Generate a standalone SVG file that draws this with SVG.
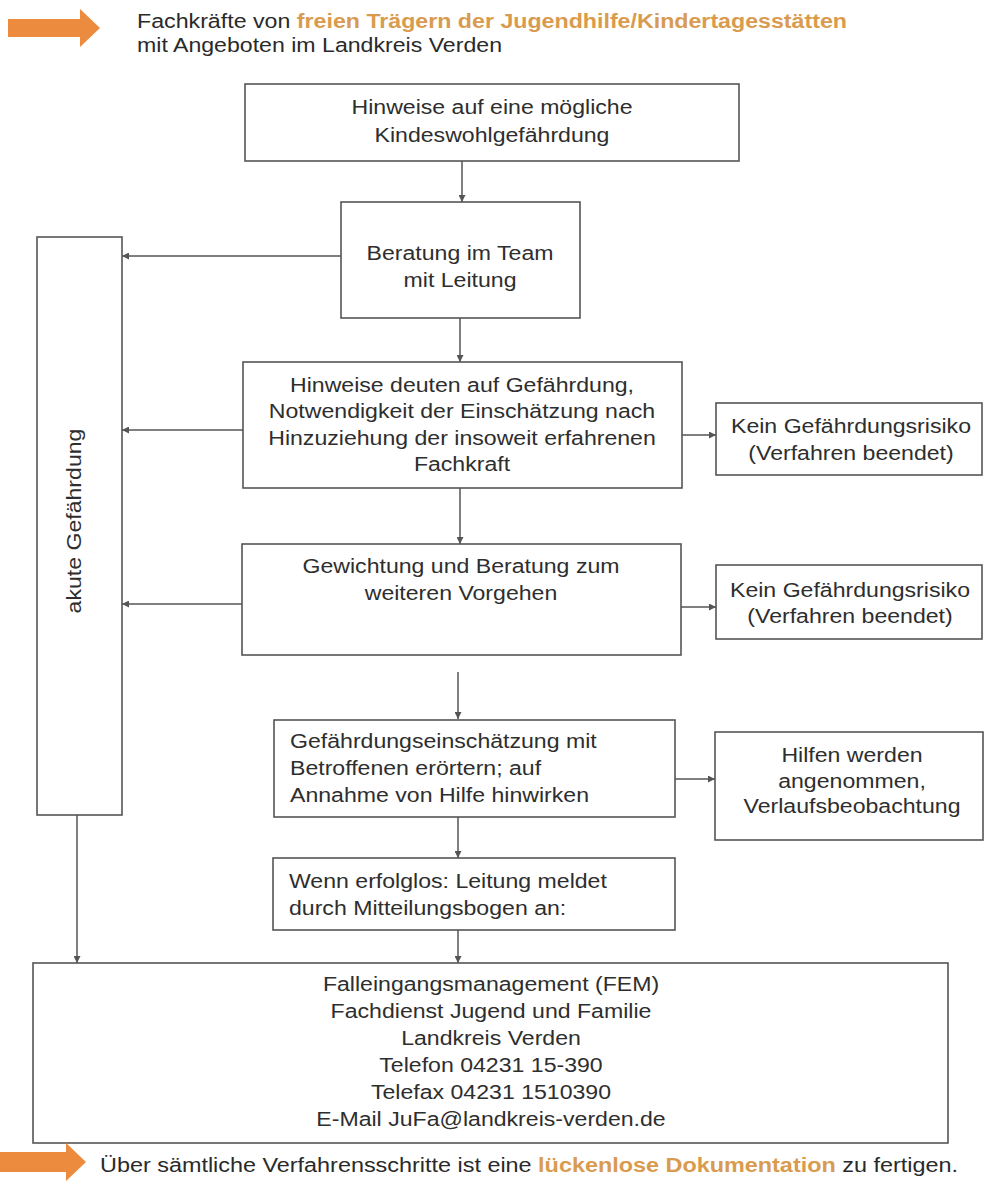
<svg xmlns="http://www.w3.org/2000/svg" width="984" height="1182" viewBox="0 0 984 1182">
<defs>
<style>
.box{fill:#fff;stroke:#555;stroke-width:1.6}
.t{font-family:"Liberation Sans",Arial,sans-serif;font-size:21px;fill:#2e2e2e}
.c{text-anchor:middle}
.hd{font-family:"Liberation Sans",Arial,sans-serif;font-size:20px;fill:#2a2a2a}
.or{fill:#d99b4f;font-weight:bold}
.ln{fill:none;stroke:#555;stroke-width:1.5;marker-end:url(#ah)}
.blk{fill:#ec8a3d}
</style>
<marker id="ah" viewBox="0 0 10 10" refX="10" refY="5" markerWidth="7" markerHeight="7" markerUnits="userSpaceOnUse" orient="auto">
<path d="M0,0 L10,5 L0,10 z" fill="#555"/>
</marker>
</defs>
<rect width="984" height="1182" fill="#fff"/>

<g id="header">
<polygon class="blk" points="8,19 80,19 80,9 100,28 80,47 80,37 8,37"/>
<text class="hd" x="137" y="28" textLength="710" lengthAdjust="spacingAndGlyphs">Fachkräfte von <tspan class="or">freien Trägern der Jugendhilfe/Kindertagesstätten</tspan></text>
<text class="hd" x="137" y="52" textLength="365" lengthAdjust="spacingAndGlyphs">mit Angeboten im Landkreis Verden</text>
</g>

<g id="n1">
<rect class="box" x="245" y="84" width="494" height="77"/>
<g transform="translate(492,0) scale(1.1,1)"><text class="t c" x="0" y="114">Hinweise auf eine mögliche</text><text class="t c" x="0" y="142">Kindeswohlgefährdung</text></g>
</g>

<g id="n2">
<rect class="box" x="341" y="202" width="239" height="116"/>
<g transform="translate(460,0) scale(1.1,1)"><text class="t c" x="0" y="260">Beratung im Team</text><text class="t c" x="0" y="287">mit Leitung</text></g>
</g>

<g id="akut">
<rect class="box" x="37" y="237" width="85" height="578"/>
<text class="t c" transform="translate(81,521) rotate(-90) scale(1.1,1)" x="0" y="0">akute Gefährdung</text>
</g>

<g id="n3">
<rect class="box" x="243" y="362" width="439" height="126"/>
<g transform="translate(462,0) scale(1.1,1)"><text class="t c" x="0" y="392">Hinweise deuten auf Gefährdung,</text><text class="t c" x="0" y="418">Notwendigkeit der Einschätzung nach</text><text class="t c" x="0" y="445">Hinzuziehung der insoweit erfahrenen</text><text class="t c" x="0" y="471">Fachkraft</text></g>
</g>

<g id="k1">
<rect class="box" x="716" y="403" width="266" height="72"/>
<g transform="translate(851,0) scale(1.1,1)"><text class="t c" x="0" y="433">Kein Gefährdungsrisiko</text><text class="t c" x="0" y="460">(Verfahren beendet)</text></g>
</g>

<g id="n4">
<rect class="box" x="242" y="544" width="439" height="111"/>
<g transform="translate(461,0) scale(1.1,1)"><text class="t c" x="0" y="573">Gewichtung und Beratung zum</text><text class="t c" x="0" y="600">weiteren Vorgehen</text></g>
</g>

<g id="k2">
<rect class="box" x="716" y="565" width="266" height="74"/>
<g transform="translate(850,0) scale(1.1,1)"><text class="t c" x="0" y="597">Kein Gefährdungsrisiko</text><text class="t c" x="0" y="623">(Verfahren beendet)</text></g>
</g>

<g id="n5">
<rect class="box" x="274" y="720" width="401" height="97"/>
<g transform="translate(290,0) scale(1.1,1)"><text class="t" x="0" y="748">Gefährdungseinschätzung mit</text><text class="t" x="0" y="775">Betroffenen erörtern; auf</text><text class="t" x="0" y="802">Annahme von Hilfe hinwirken</text></g>
</g>

<g id="h">
<rect class="box" x="715" y="732" width="268" height="108"/>
<g transform="translate(852,0) scale(1.1,1)"><text class="t c" x="0" y="762">Hilfen werden</text><text class="t c" x="0" y="788">angenommen,</text><text class="t c" x="0" y="813">Verlaufsbeobachtung</text></g>
</g>

<g id="n6">
<rect class="box" x="273" y="858" width="402" height="72"/>
<g transform="translate(289,0) scale(1.1,1)"><text class="t" x="0" y="888">Wenn erfolglos: Leitung meldet</text><text class="t" x="0" y="915">durch Mitteilungsbogen an:</text></g>
</g>

<g id="n7">
<rect class="box" x="33" y="963" width="915" height="180"/>
<g transform="translate(491,0) scale(1.1,1)">
<text class="t c" x="0" y="991">Falleingangsmanagement (FEM)</text>
<text class="t c" x="0" y="1018">Fachdienst Jugend und Familie</text>
<text class="t c" x="0" y="1045">Landkreis Verden</text>
<text class="t c" x="0" y="1072">Telefon 04231 15-390</text>
<text class="t c" x="0" y="1099">Telefax 04231 1510390</text>
<text class="t c" x="0" y="1126">E-Mail JuFa@landkreis-verden.de</text>
</g>
</g>

<g id="footer">
<polygon class="blk" points="0,1152 66,1152 66,1143 86,1162 66,1181 66,1172 0,1172"/>
<text class="hd" x="100" y="1172" textLength="858" lengthAdjust="spacingAndGlyphs">Über sämtliche Verfahrensschritte ist eine <tspan class="or">lückenlose Dokumentation</tspan> zu fertigen.</text>
</g>

<g id="connectors">
<path class="ln" d="M462,161 V202"/>
<path class="ln" d="M460,318 V362"/>
<path class="ln" d="M341,256 H122"/>
<path class="ln" d="M243,430 H122"/>
<path class="ln" d="M242,604 H122"/>
<path class="ln" d="M682,435 H716"/>
<path class="ln" d="M681,607 H716"/>
<path class="ln" d="M460,488 V544"/>
<path class="ln" d="M458,672 V719"/>
<path class="ln" d="M675,779 H715"/>
<path class="ln" d="M458,817 V858"/>
<path class="ln" d="M458,930 V963"/>
<path class="ln" d="M77,815 V963"/>
</g>
</svg>
